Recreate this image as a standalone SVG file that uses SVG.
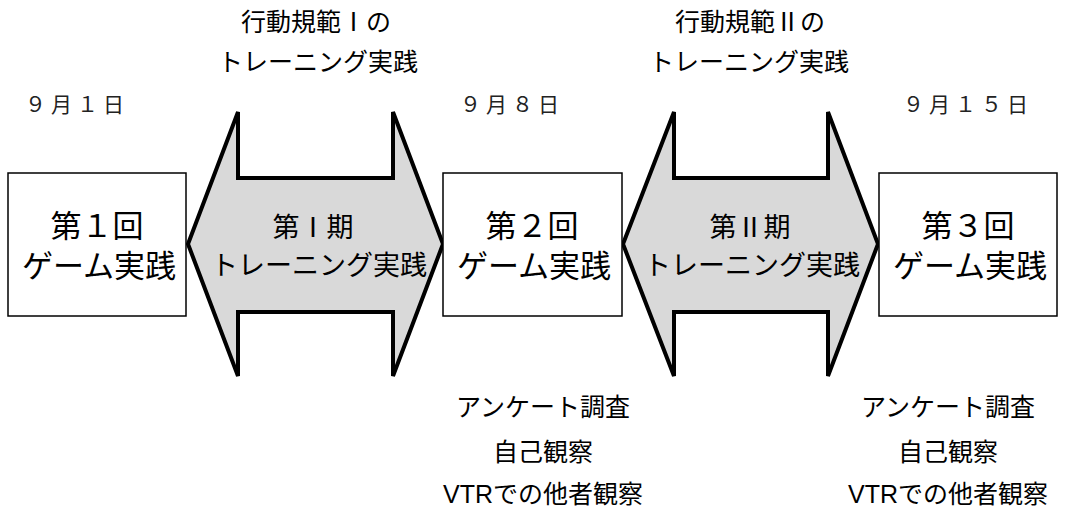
<svg xmlns="http://www.w3.org/2000/svg" width="1068" height="512" viewBox="0 0 1068 512">
<style>
.box{fill:#fff;stroke:#000;stroke-width:1.5}
.arr{fill:#d9d9d9;stroke:#000;stroke-width:4;stroke-linejoin:miter}
text{font-family:"Liberation Sans","Noto Sans CJK JP",sans-serif;fill:#000;text-anchor:middle}
.bt{font-size:31px}
.at{font-size:27px}
.lb{font-size:25px}
.dt{font-size:21px;text-anchor:start;letter-spacing:5px;fill:#222}
</style>
<rect width="1068" height="512" fill="#fff"/>
<g id="connectors">
<polygon class="arr" points="188,244 238,112 238,178 393,178 393,112 443,244 393,376 393,312 238,312 238,376"/>
<polygon class="arr" points="623,244 674,112 674,178 828,178 828,112 878,244 828,376 828,312 674,312 674,376"/>
<text class="at" x="313" y="237">第Ⅰ期</text>
<text class="at" x="319" y="275">トレーニング実践</text>
<text class="at" x="750" y="237">第Ⅱ期</text>
<text class="at" x="752" y="275">トレーニング実践</text>
</g>
<g id="node1">
<rect class="box" x="8" y="173" width="178" height="143"/>
<text class="bt" x="97" y="237">第１回</text>
<text class="bt" x="99" y="277">ゲーム実践</text>
</g>
<g id="node2">
<rect class="box" x="443" y="173" width="179" height="143"/>
<text class="bt" x="532" y="237">第２回</text>
<text class="bt" x="534" y="277">ゲーム実践</text>
</g>
<g id="node3">
<rect class="box" x="879" y="173" width="178" height="143"/>
<text class="bt" x="968" y="237">第３回</text>
<text class="bt" x="970" y="277">ゲーム実践</text>
</g>
<g id="dates">
<text class="dt" x="25" y="112">９月１日</text>
<text class="dt" x="460" y="112">９月８日</text>
<text class="dt" x="903" y="112">９月１５日</text>
</g>
<g id="labels-top">
<text class="lb" x="316" y="31">行動規範Ⅰの</text>
<text class="lb" x="318" y="71">トレーニング実践</text>
<text class="lb" x="750" y="31">行動規範Ⅱの</text>
<text class="lb" x="749" y="71">トレーニング実践</text>
</g>
<g id="labels-bottom">
<text class="lb" x="543" y="416">アンケート調査</text>
<text class="lb" x="543" y="461">自己観察</text>
<text class="lb" x="543" y="503">VTRでの他者観察</text>
<text class="lb" x="948" y="416">アンケート調査</text>
<text class="lb" x="948" y="461">自己観察</text>
<text class="lb" x="948" y="503">VTRでの他者観察</text>
</g>
</svg>
